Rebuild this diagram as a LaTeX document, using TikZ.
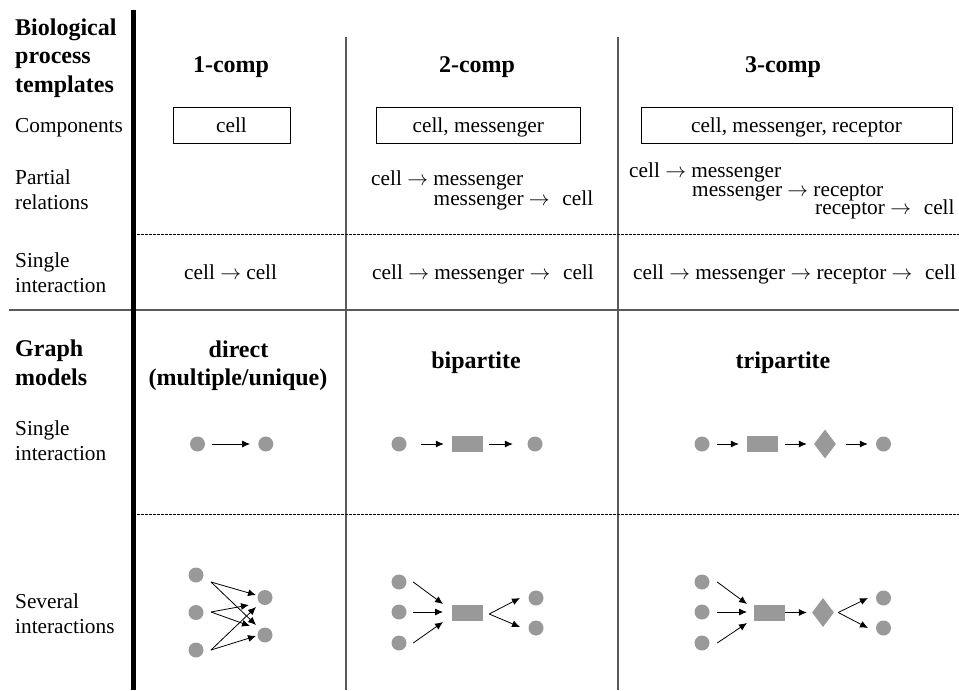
\documentclass[tikz,border=0pt]{standalone}
\usepackage{fontspec}
\setmainfont{Liberation Serif}
\usetikzlibrary{arrows.meta,shapes.geometric}
\newcommand{\tarr}{\ensuremath{\rightarrow}}
\begin{document}
\begin{tikzpicture}[x=1pt,y=-1pt,
  lbl/.style={inner sep=0pt,font=\fontsize{21.3}{25}\selectfont},
  hd/.style={inner sep=0pt,font=\fontsize{24}{28}\selectfont\bfseries},
  compbox/.style={draw,line width=0.9pt,minimum height=36pt,inner sep=0pt,
    text height=16pt,text depth=2pt,font=\fontsize{21.3}{25}\selectfont},
  vert/.style={fill=black!40,circle,minimum size=15pt,inner sep=0pt},
  msg/.style={fill=black!40,rectangle,minimum width=31pt,minimum height=16pt,inner sep=0pt},
  rcp/.style={fill=black!40,diamond,minimum width=22pt,minimum height=29pt,inner sep=0pt},
  edge/.style={-{Latex[length=8pt,width=7pt]},line width=0.8pt},
  grid/.style={line width=1.2pt,black!65},
  sep/.style={line width=0.8pt,dash pattern=on 2.5pt off 1.5pt}
]
\useasboundingbox (0,0) rectangle (959,691);

% ---- table rules ----
\coordinate (thickT) at (133.5,10);
\coordinate (thickB) at (133.5,690);
\coordinate (v1T) at (346,37);  \coordinate (v1B) at (346,690);
\coordinate (v2T) at (618,37);  \coordinate (v2B) at (618,690);
\coordinate (hL) at (9,310);    \coordinate (hR) at (959,310);
\coordinate (d1L) at (137,234); \coordinate (d1R) at (959,234);
\coordinate (d2L) at (137,514); \coordinate (d2R) at (959,514);
\draw[grid] (v1T) -- (v1B);
\draw[grid] (v2T) -- (v2B);
\draw[grid] (hL) -- (hR);
\draw[sep] (d1L) -- (d1R);
\draw[sep] (d2L) -- (d2R);
\draw[line width=4.5pt] (thickT) -- (thickB);

% ---- row labels ----
\node[hd,anchor=base west] (bio1) at (15,35) {Biological};
\node[hd,anchor=base west] (bio2) at (15,63.5) {process};
\node[hd,anchor=base west] (bio3) at (15,92) {templates};
\node[lbl,anchor=base west] (comp) at (15,132) {Components};
\node[lbl,anchor=base west] (part1) at (15,184) {Partial};
\node[lbl,anchor=base west] (part2) at (15,209) {relations};
\node[lbl,anchor=base west] (sgl1) at (15,267) {Single};
\node[lbl,anchor=base west] (sgl2) at (15,292) {interaction};
\node[hd,anchor=base west] (gm1) at (15,356.5) {Graph};
\node[hd,anchor=base west] (gm2) at (15,385) {models};
\node[lbl,anchor=base west] (gs1) at (15,435) {Single};
\node[lbl,anchor=base west] (gs2) at (15,460) {interaction};
\node[lbl,anchor=base west] (sev1) at (15,608) {Several};
\node[lbl,anchor=base west] (sev2) at (15,633) {interactions};

% ---- column headers ----
\node[hd,anchor=base] (h1) at (231,72.7) {1-comp};
\node[hd,anchor=base] (h2) at (477,72.7) {2-comp};
\node[hd,anchor=base] (h3) at (783,72.7) {3-comp};

% ---- components ----
\node[compbox,minimum width=117pt] (c1) at (231.5,125) {cell};
\node[compbox,minimum width=204.5pt] (c2) at (478.3,125) {cell, messenger};
\node[compbox,minimum width=311pt] (c3) at (796.5,125) {cell, messenger, receptor};

% ---- partial relations ----
\node[lbl,anchor=base west] (p21) at (371,185) {cell \tarr{} messenger};
\node[lbl,anchor=base west] (p22) at (433.5,205) {messenger \tarr\hspace{0.6em}cell};
\node[lbl,anchor=base west] (p31) at (629,177) {cell \tarr{} messenger};
\node[lbl,anchor=base west] (p32) at (692,196) {messenger \tarr{} receptor};
\node[lbl,anchor=base west] (p33) at (815,214.5) {receptor \tarr\hspace{0.6em}cell};

% ---- single interaction (templates) ----
\node[lbl,anchor=base west] (s1) at (184,279) {cell \tarr{} cell};
\node[lbl,anchor=base west] (s2) at (372,279) {cell \tarr{} messenger \tarr\hspace{0.6em}cell};
\node[lbl,anchor=base west] (s3) at (633,279) {cell \tarr{} messenger \tarr{} receptor \tarr\hspace{0.6em}cell};

% ---- graph model headers ----
\node[hd,anchor=base] (g1a) at (238.5,357) {direct};
\node[hd,anchor=base] (g1b) at (238,385) {(multiple/unique)};
\node[hd,anchor=base] (g2) at (476,368) {bipartite};
\node[hd,anchor=base] (g3) at (783,368) {tripartite};

% ---- single interaction graphs ----
\node[vert] (da) at (197.5,444) {};
\node[vert] (db) at (265.8,444) {};
\draw[edge,shorten <=7pt,shorten >=8pt] (da) -- (db);

\node[vert] (ba) at (399,444) {};
\node[msg]  (bm) at (467.5,444) {};
\node[vert] (bb) at (535,444) {};
\draw[edge,shorten <=14.5pt,shorten >=8pt] (ba) -- (bm);
\draw[edge,shorten <=6pt,shorten >=14.5pt] (bm) -- (bb);

\node[vert] (ta) at (702,444) {};
\node[msg]  (tm) at (762.5,444) {};
\node[rcp]  (tr) at (825,444) {};
\node[vert] (tb) at (883.5,444) {};
\draw[edge,shorten <=7.5pt,shorten >=8pt] (ta) -- (tm);
\draw[edge,shorten <=7pt,shorten >=7pt] (tm) -- (tr);
\draw[edge,shorten <=10pt,shorten >=8pt] (tr) -- (tb);

% ---- several interactions: direct ----
\node[vert] (dl1) at (196,575) {};
\node[vert] (dl2) at (196,612.5) {};
\node[vert] (dl3) at (196,650) {};
\node[vert] (dr1) at (265,597.5) {};
\node[vert] (dr2) at (265,635) {};
\coordinate (ds1) at (211,582);
\coordinate (ds2) at (211,612);
\coordinate (ds3) at (211,650);
\coordinate (dt11) at (256,595);
\coordinate (dt21) at (249,605);
\coordinate (dt31) at (256,607);
\coordinate (dt12) at (256,625);
\coordinate (dt22) at (250,626);
\coordinate (dt32) at (256,636);
\draw[edge] (ds1) -- (dt11);
\draw[edge] (ds1) -- (dt12);
\draw[edge] (ds2) -- (dt21);
\draw[edge] (ds2) -- (dt22);
\draw[edge] (ds3) -- (dt31);
\draw[edge] (ds3) -- (dt32);

% ---- several interactions: bipartite ----
\node[vert] (bl1) at (399,582) {};
\node[vert] (bl2) at (399,612) {};
\node[vert] (bl3) at (399,643) {};
\node[msg]  (bmm) at (467.5,613) {};
\node[vert] (br1) at (536,598) {};
\node[vert] (br2) at (536,628) {};
\coordinate (bt1) at (443,604);
\coordinate (bt2) at (443,612);
\coordinate (bt3) at (443,622);
\coordinate (bo1) at (520,598);
\coordinate (bo2) at (520,627);
\draw[edge] ([xshift=6.5pt]bl1.east) -- (bt1);
\draw[edge] ([xshift=6.5pt]bl2.east) -- (bt2);
\draw[edge] ([xshift=6.5pt]bl3.east) -- (bt3);
\draw[edge] ([xshift=6pt,yshift=-1pt]bmm.east) -- (bo1);
\draw[edge] ([xshift=6pt,yshift=-1pt]bmm.east) -- (bo2);

% ---- several interactions: tripartite ----
\node[vert] (tl1) at (702,582) {};
\node[vert] (tl2) at (702,612) {};
\node[vert] (tl3) at (702,643) {};
\node[msg]  (tmm) at (769.5,612.5) {};
\node[rcp]  (trr) at (823,612.5) {};
\node[vert] (tr1) at (883.5,598) {};
\node[vert] (tr2) at (883.5,628) {};
\coordinate (tt1) at (747,604);
\coordinate (tt2) at (747,612);
\coordinate (tt3) at (747,623);
\coordinate (to1) at (868,598);
\coordinate (to2) at (868,628);
\draw[edge] ([xshift=7.5pt]tl1.east) -- (tt1);
\draw[edge] ([xshift=7.5pt]tl2.east) -- (tt2);
\draw[edge] ([xshift=7.5pt]tl3.east) -- (tt3);
\draw[edge,shorten >=5pt] (tmm.east) -- (trr.west);
\draw[edge] ([xshift=4pt]trr.east) -- (to1);
\draw[edge] ([xshift=4pt]trr.east) -- (to2);
\end{tikzpicture}
\end{document}
